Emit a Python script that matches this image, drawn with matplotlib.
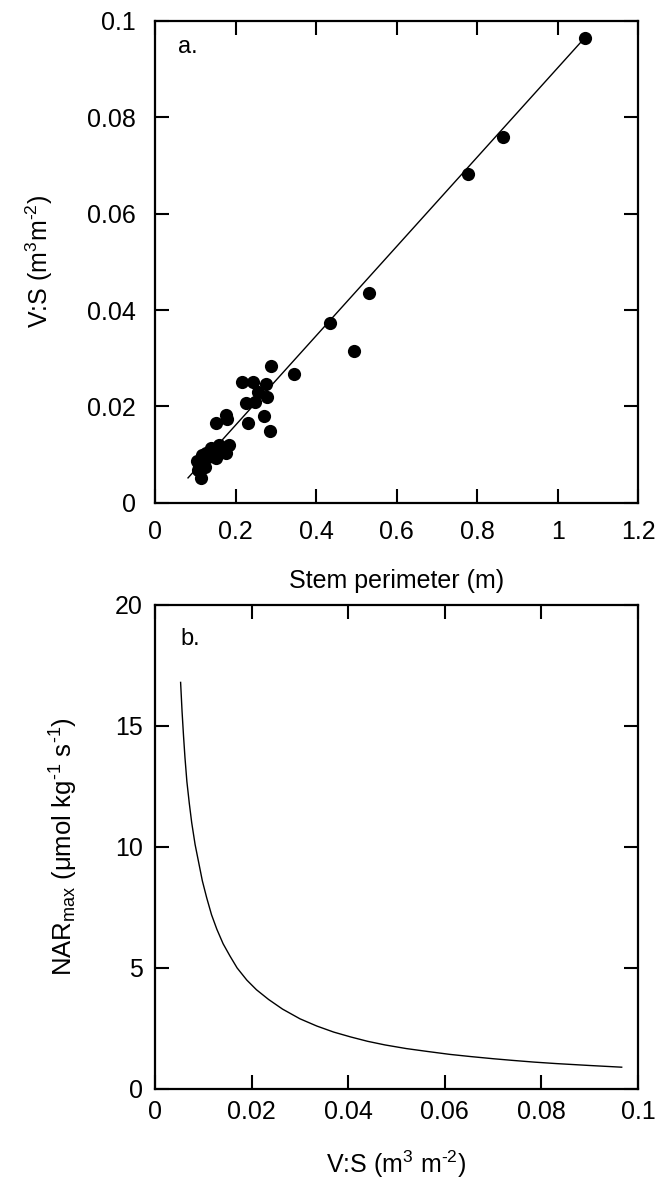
import matplotlib
matplotlib.use("Agg")
import matplotlib.pyplot as plt

plt.rcParams["font.family"] = ["Liberation Sans", "DejaVu Sans"]
plt.rcParams["mathtext.fontset"] = "custom"
plt.rcParams["mathtext.rm"] = "Liberation Sans"
plt.rcParams["mathtext.it"] = "Liberation Sans"
plt.rcParams["mathtext.default"] = "regular"

# panel a: stem perimeter (m) vs V:S (m3 m-2)
perimeter = [1.067, 0.865, 0.777, 0.531, 0.435, 0.494, 0.346, 0.289,
             0.216, 0.243, 0.276, 0.255, 0.227, 0.248, 0.278, 0.271,
             0.231, 0.285, 0.176, 0.180, 0.151,
             0.185, 0.174, 0.160, 0.139, 0.152, 0.126, 0.116, 0.105,
             0.110, 0.124, 0.114, 0.107, 0.142, 0.169, 0.177, 0.131]
vs_ratio = [0.0964, 0.0759, 0.0683, 0.0436, 0.0374, 0.0315, 0.0268, 0.0283,
            0.0250, 0.0250, 0.0246, 0.0230, 0.0208, 0.0210, 0.0220, 0.0180,
            0.0166, 0.0150, 0.0183, 0.0174, 0.0166,
            0.0121, 0.0112, 0.0120, 0.0114, 0.0093, 0.0104, 0.0100, 0.0088,
            0.0076, 0.0074, 0.0052, 0.0068, 0.0108, 0.0105, 0.0104, 0.0095]

# regression line
fit_slope = 0.0926
fit_intercept = -0.0024
fit_x = [0.082, 1.067]

# panel b: NAR_max vs V:S
vs_curve = [0.0053, 0.0056, 0.0059, 0.0062, 0.0066, 0.0071, 0.0076, 0.0083,
            0.0090, 0.0098, 0.0107, 0.0117, 0.0128, 0.0141, 0.0155, 0.0170,
            0.0190, 0.0210, 0.0235, 0.0264, 0.0300, 0.0335, 0.0370, 0.0405,
            0.0440, 0.0476, 0.0520, 0.0564, 0.0610, 0.0653, 0.0700, 0.0741,
            0.0785, 0.0830, 0.0900, 0.0966]
nar_curve = [16.8, 15.6, 14.6, 13.7, 12.7, 11.8, 11.0, 10.1,
             9.4, 8.6, 7.9, 7.2, 6.6, 6.0, 5.5, 5.0,
             4.5, 4.1, 3.7, 3.3, 2.9, 2.6, 2.35, 2.15,
             1.97, 1.82, 1.67, 1.55, 1.43, 1.34, 1.25, 1.18,
             1.11, 1.05, 0.97, 0.90]

HY = "\u2010"  # plain hyphen for superscript exponents

fig = plt.figure(figsize=(6.71, 11.82), dpi=100)
ax1 = fig.add_axes([0.231, 0.5745, 0.720, 0.408])
ax2 = fig.add_axes([0.231, 0.0787, 0.720, 0.4095])

for ax in (ax1, ax2):
    for s in ax.spines.values():
        s.set_linewidth(1.6)
    ax.tick_params(which="both", top=True, right=True, direction="in",
                   length=10, width=1.5, labelsize=18)

# a.
ax1.plot(fit_x, [fit_slope * x + fit_intercept for x in fit_x],
         color="black", linewidth=1.0)
ax1.plot(perimeter, vs_ratio, "o", color="black", markersize=9.5,
         markeredgewidth=0)
ax1.set_xlim(0, 1.2)
ax1.set_ylim(0, 0.1)
ax1.set_xticks([0, 0.2, 0.4, 0.6, 0.8, 1.0, 1.2])
ax1.set_xticklabels(["0", "0.2", "0.4", "0.6", "0.8", "1", "1.2"])
ax1.set_yticks([0, 0.02, 0.04, 0.06, 0.08, 0.1])
ax1.set_yticklabels(["0", "0.02", "0.04", "0.06", "0.08", "0.1"])
ax1.tick_params(axis="x", pad=12)
ax1.tick_params(axis="y", pad=14)
ax1.set_xlabel("Stem perimeter (m)", fontsize=18, labelpad=18)
ax1.set_ylabel("V:S (m$^{3}$m$^{" + HY + "2}$)", fontsize=18, labelpad=23)
ax1.text(0.048, 0.946, "a.", transform=ax1.transAxes, fontsize=17,
         ha="left", va="center")

# b.
ax2.plot(vs_curve, nar_curve, color="black", linewidth=1.0)
ax2.set_xlim(0, 0.1)
ax2.set_ylim(0, 20)
ax2.set_xticks([0, 0.02, 0.04, 0.06, 0.08, 0.1])
ax2.set_xticklabels(["0", "0.02", "0.04", "0.06", "0.08", "0.1"])
ax2.set_yticks([0, 5, 10, 15, 20])
ax2.tick_params(axis="x", pad=8)
ax2.tick_params(axis="y", pad=9)
ax2.set_xlabel("V:S (m$^{3}$ m$^{" + HY + "2}$)", fontsize=18, labelpad=18)
ax2.set_ylabel("NAR$_{max}$ (μmol kg$^{" + HY + "1}$ s$^{" + HY + "1}$)",
               fontsize=18.5, labelpad=25)
ax2.text(0.052, 0.93, "b.", transform=ax2.transAxes, fontsize=17,
         ha="left", va="center")

fig.savefig("out.png", dpi=100, facecolor="white")
